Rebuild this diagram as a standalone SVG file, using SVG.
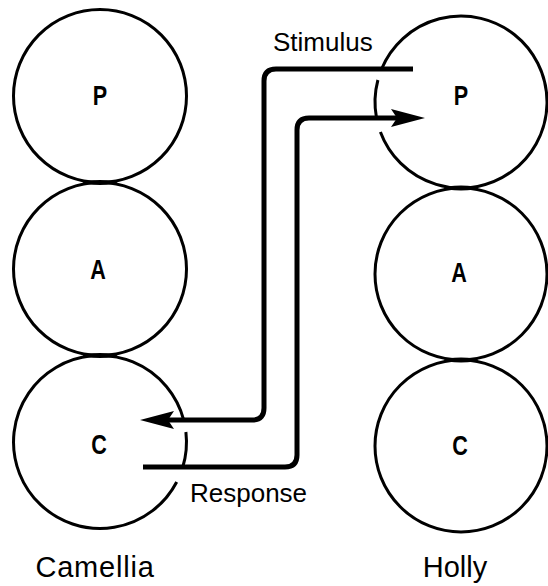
<svg xmlns="http://www.w3.org/2000/svg" width="548" height="586" viewBox="0 0 548 586">
<style>
.c{fill:none;stroke:#000;stroke-width:3}
.j{fill:#000}
.w{fill:none;stroke:#000;stroke-width:5;stroke-linejoin:round}
.l{font-family:"Liberation Sans",Arial,sans-serif;font-weight:bold;font-size:27px;text-anchor:middle;fill:#000}
.t{font-family:"Liberation Sans",Arial,sans-serif;font-size:26px;fill:#000}
.n{font-family:"Liberation Sans",Arial,sans-serif;font-size:29px;fill:#000;text-anchor:middle}
</style>
<defs>
<marker id="ah" viewBox="0 0 34 18" markerWidth="34" markerHeight="18" refX="8" refY="9" orient="auto" markerUnits="userSpaceOnUse">
<path d="M0,0 L34,9 L0,18 L6,9 Z" fill="#000"/>
</marker>
</defs>
<rect width="548" height="586" fill="#fff"/>
<g id="camellia-p"><circle class="c" cx="100" cy="96" r="86.5"/><text class="l" transform="translate(100 105) scale(0.8 1)">P</text></g>
<g id="camellia-a"><circle class="c" cx="100" cy="269" r="86.5"/><ellipse class="j" cx="100" cy="182.5" rx="17" ry="2.6"/><text class="l" transform="translate(98 279) scale(0.8 1)">A</text></g>
<g id="camellia-c"><path class="c" d="M183.7 420 A86.5 86.5 0 1 0 176.7 482"/><path class="c" d="M185.9 432 A86.5 86.5 0 0 1 182.8 467"/><ellipse class="j" cx="100" cy="355.5" rx="17" ry="2.6"/><text class="l" transform="translate(99 454) scale(0.8 1)">C</text></g>
<g id="holly-p"><path class="c" d="M381.6 69 A86 86 0 1 1 380.4 132"/><path class="c" d="M377.9 80 A86 86 0 0 0 376.5 118"/><text class="l" transform="translate(461 105) scale(0.8 1)">P</text></g>
<g id="holly-a"><circle class="c" cx="461" cy="274" r="86"/><ellipse class="j" cx="461" cy="188" rx="17" ry="2.6"/><text class="l" transform="translate(459 282) scale(0.8 1)">A</text></g>
<g id="holly-c"><circle class="c" cx="461" cy="446" r="86"/><ellipse class="j" cx="461" cy="360" rx="17" ry="2.6"/><text class="l" transform="translate(460 455) scale(0.8 1)">C</text></g>
<g id="connectors">
<path class="w" d="M413 69 H276 Q264 69 264 81 V408 Q264 420 252 420 H166" marker-end="url(#ah)"/>
<path class="w" d="M143 467 H285 Q297 467 297 455 V130 Q297 118 309 118 H399" marker-end="url(#ah)"/>
</g>
<g id="labels">
<text class="t" x="273" y="51">Stimulus</text>
<text class="t" x="190" y="502">Response</text>
<text class="n" x="95" y="577" letter-spacing="0.8">Camellia</text>
<text class="n" x="455" y="577">Holly</text>
</g>
</svg>
